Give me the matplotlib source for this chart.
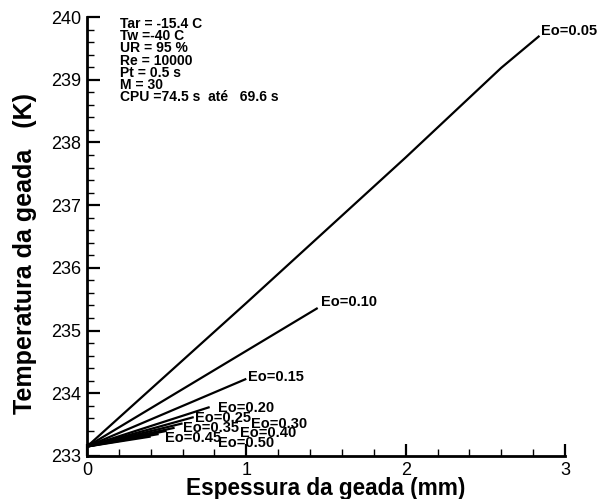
import matplotlib

matplotlib.use("Agg")

import matplotlib.pyplot as plt
from matplotlib.ticker import MultipleLocator

plt.rcParams["font.family"] = ["Liberation Sans", "DejaVu Sans"]

# Frost thickness (mm) and frost temperature (K) for each Eo
eo_labels = ["Eo=0.05", "Eo=0.10", "Eo=0.15", "Eo=0.20", "Eo=0.25",
             "Eo=0.30", "Eo=0.35", "Eo=0.40", "Eo=0.45", "Eo=0.50"]
thickness = [
    [0.0, 1.0, 2.0, 2.6, 2.84],
    [0.0, 1.448],
    [0.0, 1.0],
    [0.0, 0.77],
    [0.0, 0.67],
    [0.0, 0.60],
    [0.0, 0.55],
    [0.0, 0.50],
    [0.0, 0.45],
    [0.0, 0.40],
]
temperature = [
    [233.15, 235.44, 237.76, 239.19, 239.70],
    [233.15, 235.36],
    [233.15, 234.23],
    [233.15, 233.78],
    [233.15, 233.62],
    [233.15, 233.52],
    [233.15, 233.45],
    [233.15, 233.40],
    [233.15, 233.35],
    [233.15, 233.31],
]
# label anchor points (data coords)
label_x = [2.85, 1.47, 1.01, 0.82, 0.68, 1.03, 0.60, 0.96, 0.49, 0.82]
label_y = [239.78, 235.45, 234.26, 233.77, 233.60, 233.51, 233.45, 233.37, 233.29, 233.21]

info_lines = ["Tar = -15.4 C", "Tw =-40 C", "UR = 95 %", "Re = 10000",
              "Pt = 0.5 s", "M = 30", "CPU =74.5 s  até   69.6 s"]

fig = plt.figure(figsize=(5.99, 4.99), dpi=100)
ax = fig.add_axes([0.1452, 0.0862, 0.798, 0.8797])

for xs, ys in zip(thickness, temperature):
    ax.plot(xs, ys, color="black", linewidth=1.6, solid_capstyle="butt")
for lab, lx, ly in zip(eo_labels, label_x, label_y):
    ax.text(lx, ly, lab, fontsize=10.5, fontweight="bold", ha="left", va="center")

ax.text(0.205, 240.0, "\n".join(info_lines),
        fontsize=10, fontweight="bold", ha="left", va="top", linespacing=0.84)

ax.set_xlim(0, 3)
ax.set_ylim(233, 240)
ax.xaxis.set_major_locator(MultipleLocator(1))
ax.xaxis.set_minor_locator(MultipleLocator(0.2))
ax.yaxis.set_major_locator(MultipleLocator(1))
ax.yaxis.set_minor_locator(MultipleLocator(0.2))
ax.tick_params(which="major", direction="in", length=9, width=1.6, labelsize=13, pad=4)
ax.tick_params(which="minor", direction="in", length=5, width=1.0)
ax.spines["top"].set_visible(False)
ax.spines["right"].set_visible(False)
ax.spines["left"].set_linewidth(2)
ax.spines["bottom"].set_linewidth(2)

ax.set_xlabel("Espessura da geada (mm)", fontsize=16.3, fontweight="bold", labelpad=-1)
ax.set_ylabel("Temperatura da geada   (K)", fontsize=18, fontweight="bold")
ax.yaxis.set_label_coords(-0.105, 0.461)

fig.savefig("out.png", dpi=100)
